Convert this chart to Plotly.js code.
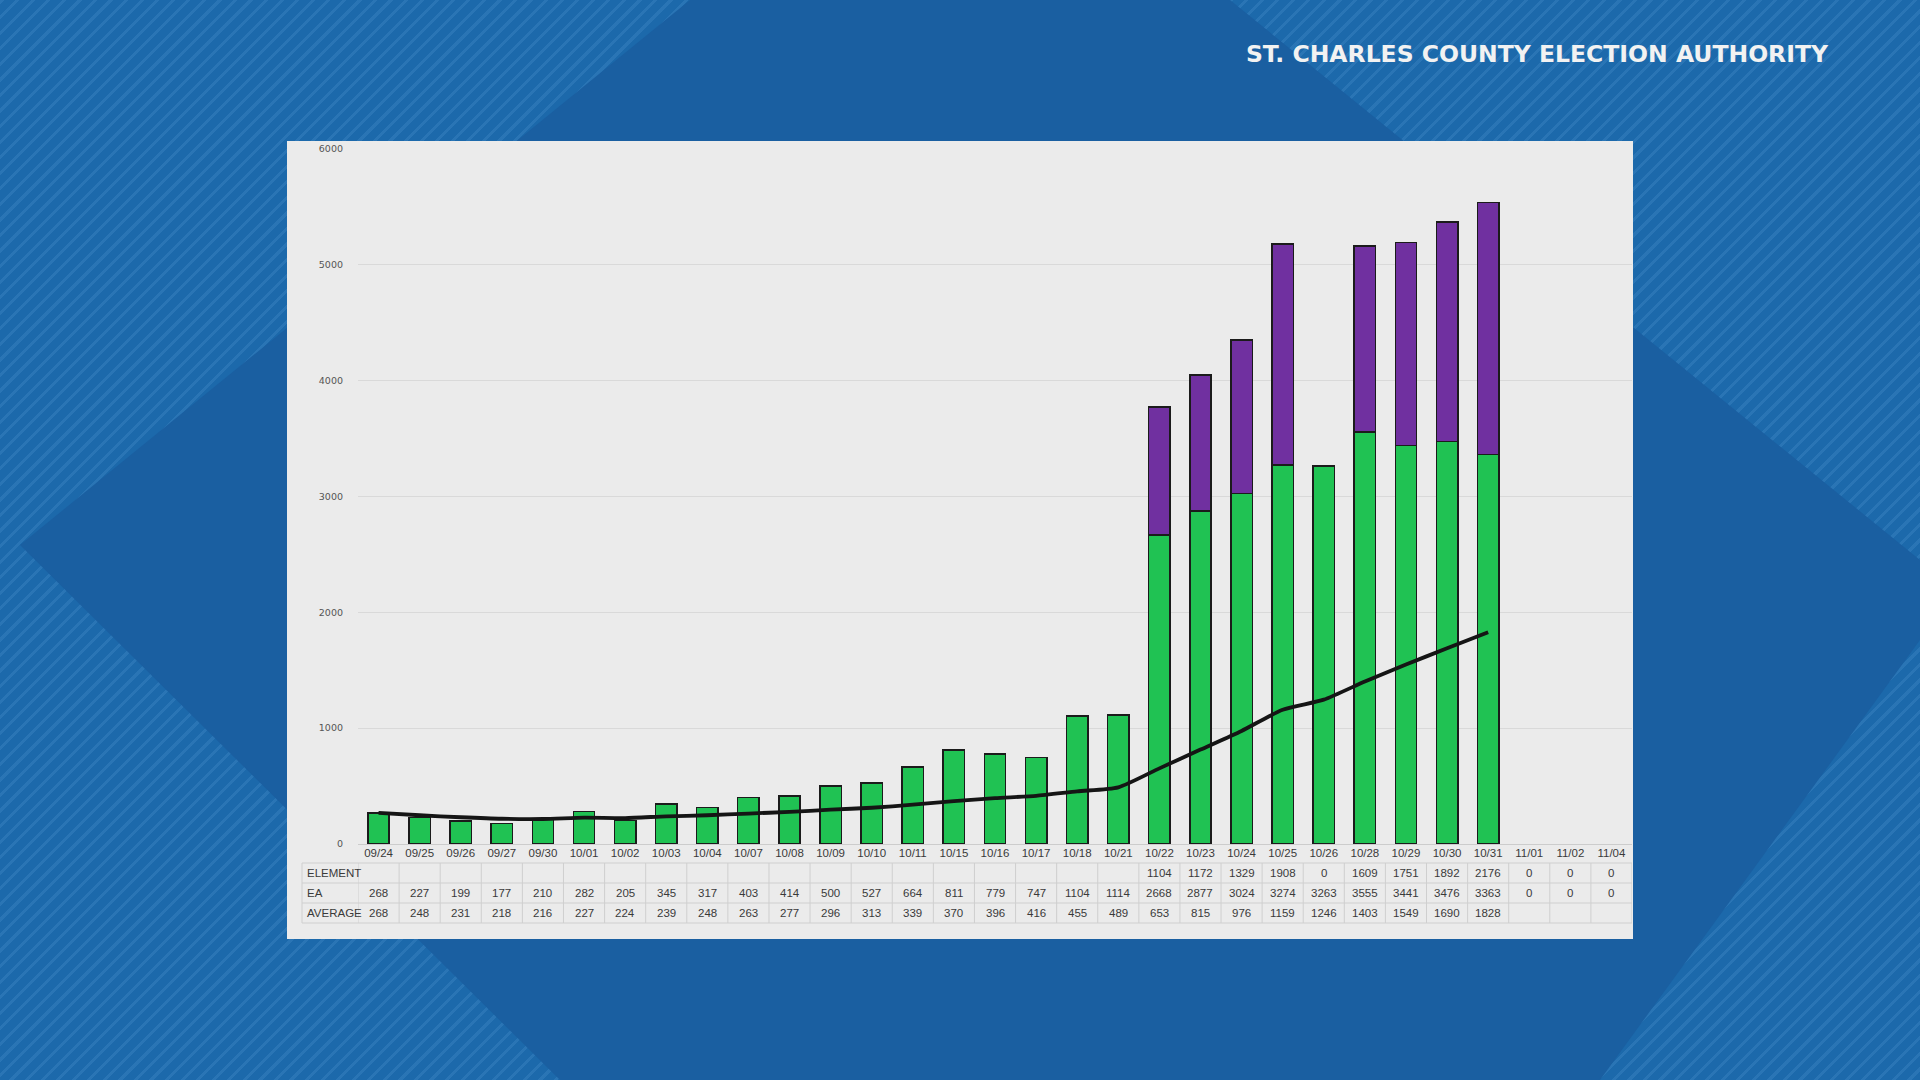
<!DOCTYPE html>
<html><head><meta charset="utf-8">
<script src="https://cdn.plot.ly/plotly-3.0.1.min.js"></script>
<style>
html,body{margin:0;padding:0;width:1920px;height:1080px;overflow:hidden;background:#1b67a9;}
#bg{position:absolute;left:0;top:0;width:1920px;height:1080px;background-color:#1c69ab;
background-image:repeating-linear-gradient(135deg, rgba(110,175,230,0.17) 0px, rgba(110,175,230,0.17) 3px, rgba(0,0,0,0) 3px, rgba(0,0,0,0) 11px);}
#dark{position:absolute;left:0;top:0;width:1920px;height:1080px;background:#1a5fa1;
clip-path:polygon(20px 545px,690px 0px,1230px 0px,1920px 560px,1920px 640px,1600px 1080px,560px 1080px);}
#panel{position:absolute;left:287px;top:141px;width:1346px;height:798px;background:#ebebeb;}
#chart{position:absolute;left:0;top:0;width:1920px;height:1080px;}
</style></head><body>
<div id="bg"></div><div id="dark"></div><div id="panel"></div><div id="chart"></div>
<script>
// ---- data ----
const dates = ['09/24','09/25','09/26','09/27','09/30','10/01','10/02','10/03','10/04','10/07','10/08','10/09','10/10','10/11','10/15','10/16','10/17','10/18','10/21','10/22','10/23','10/24','10/25','10/26','10/28','10/29','10/30','10/31','11/01','11/02','11/04'];
const element = [null,null,null,null,null,null,null,null,null,null,null,null,null,null,null,null,null,null,null,1104,1172,1329,1908,0,1609,1751,1892,2176,0,0,0];
const ea = [268,227,199,177,210,282,205,345,317,403,414,500,527,664,811,779,747,1104,1114,2668,2877,3024,3274,3263,3555,3441,3476,3363,0,0,0];
const average = [268,248,231,218,216,227,224,239,248,263,277,296,313,339,370,396,416,455,489,653,815,976,1159,1246,1403,1549,1690,1828];
const yTicks = [0,1000,2000,3000,4000,5000,6000];
const rowLabels = ['ELEMENT','EA','AVERAGE'];
const rowSeries = [element, ea, average];
const titleText = 'ST. CHARLES COUNTY ELECTION AUTHORITY';

// ---- geometry (pixels) ----
const W = 1920, H = 1080, ML = 358, MR = 288, MT = 149, MB = 236;
const plotW = W - ML - MR, plotH = H - MT - MB;
const py = p => (MT + plotH - p) / plotH;   // pixel y -> paper y
const px = p => (p - ML) / plotW;           // pixel x -> paper x
const rowCenters = [873, 893, 913];
const rowLines = [863, 883, 903, 923];
const tableLeft = 302;
const txtFont = {family:'Liberation Sans, Arial, sans-serif', size:11.5, color:'#3a3a3a'};
const noZero = arr => arr.map(v => (v ? v : null));  // zero-height bars are not drawn

const traces = [
  {type:'bar', name:'EA', x:dates, y:noZero(ea), width:0.52,
   marker:{color:'#20c253', line:{color:'#1b1b1b', width:1.5}}, hoverinfo:'skip'},
  {type:'bar', name:'ELEMENT', x:dates, y:noZero(element), width:0.52,
   marker:{color:'#7030a0', line:{color:'#1b1b1b', width:1.5}}, hoverinfo:'skip'},
  {type:'scatter', mode:'lines', name:'AVERAGE', x:dates.slice(0, average.length), y:average,
   line:{color:'#151515', width:3.8, shape:'spline', smoothing:0.6}, hoverinfo:'skip'}
];

const annotations = [];
const shapes = [];
rowLabels.forEach((lab, r) => {
  annotations.push({xref:'paper', yref:'paper', x:px(tableLeft + 3), y:py(rowCenters[r]),
    xanchor:'left', yanchor:'middle', text:lab, showarrow:false, font:txtFont});
  rowSeries[r].forEach((v, i) => {
    if (v === null || v === undefined) return;
    annotations.push({xref:'x', yref:'paper', x:dates[i], y:py(rowCenters[r]),
      xanchor:'center', yanchor:'middle', text:String(v), showarrow:false, font:txtFont});
  });
});
rowLines.forEach(p => shapes.push({type:'line', xref:'paper', yref:'paper',
  x0:px(tableLeft), x1:1, y0:py(p), y1:py(p), line:{color:'#cfcfcf', width:1}}));
for (let i = 0; i <= dates.length; i++) {
  shapes.push({type:'line', xref:'x', yref:'paper', x0:i-0.5, x1:i-0.5,
    y0:py(rowLines[0]), y1:py(rowLines[rowLines.length-1]), line:{color:'#cfcfcf', width:1}});
}
shapes.push({type:'line', xref:'paper', yref:'paper', x0:px(tableLeft), x1:px(tableLeft),
  y0:py(rowLines[0]), y1:py(rowLines[rowLines.length-1]), line:{color:'#cfcfcf', width:1}});

const layout = {
  width:W, height:H, margin:{l:ML, r:MR, t:MT, b:MB, pad:0},
  paper_bgcolor:'rgba(0,0,0,0)', plot_bgcolor:'rgba(0,0,0,0)',
  barmode:'stack', showlegend:false,
  title:{text:'<b>'+titleText+'</b>', xref:'container', x:1828/W, xanchor:'right',
    yref:'container', y:1-54/H, yanchor:'middle',
    font:{family:'DejaVu Sans, Open Sans, sans-serif', size:23.5, color:'#f2f2f2'}},
  xaxis:{type:'category', categoryorder:'array', categoryarray:dates, range:[-0.5, dates.length-0.5],
    showgrid:false, zeroline:false, showline:false, ticks:'', fixedrange:true,
    tickfont:txtFont, tickangle:0, automargin:false},
  yaxis:{range:[0,6000], tickvals:yTicks, ticktext:yTicks.map(String), showgrid:true,
    gridcolor:'#d9d9d9', gridwidth:1, zeroline:true, zerolinecolor:'#cccccc', zerolinewidth:1,
    showline:false, ticks:'', ticklabelstandoff:14, fixedrange:true, automargin:false,
    tickfont:{family:'DejaVu Sans, sans-serif', size:9.5, color:'#555555'}},
  annotations:annotations, shapes:shapes
};
Plotly.newPlot('chart', traces, layout, {staticPlot:true, displayModeBar:false});
</script>
</body></html>
